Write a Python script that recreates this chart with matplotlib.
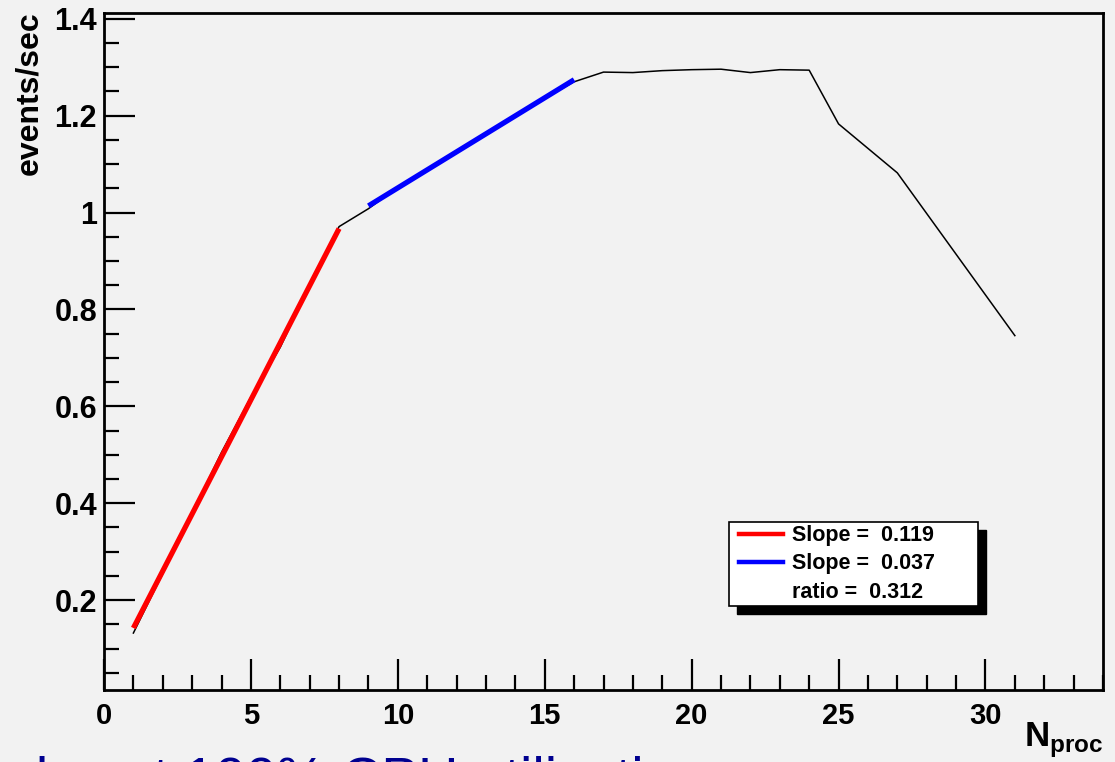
import matplotlib.pyplot as plt
from matplotlib.patches import Rectangle
from matplotlib.lines import Line2D
from matplotlib.ticker import MultipleLocator
import numpy as np

# events/sec vs number of processes
n_proc = [1, 2, 3, 4, 5, 6, 7, 8, 9, 10, 11, 12, 13, 14, 15, 16,
          17, 18, 19, 20, 21, 22, 23, 24, 25, 27, 31]
rate = [0.132, 0.255, 0.380, 0.505, 0.619, 0.722, 0.850, 0.971,
        1.008, 1.052, 1.090, 1.126, 1.163, 1.200, 1.236, 1.270,
        1.290, 1.289, 1.293, 1.295, 1.296, 1.289, 1.295, 1.294,
        1.183, 1.082, 0.746]

# linear fits: (x range, intercept, slope)
fit1_range = [1, 8]
fit1_par = [0.0245, 0.1178]
fit2_range = [9, 16]
fit2_par = [0.679, 0.0372]
legend_text = ["Slope =  0.119", "Slope =  0.037", "ratio =  0.312"]

plt.rcParams['font.family'] = ['Liberation Sans', 'DejaVu Sans']
plt.rcParams['mathtext.fontset'] = 'custom'
plt.rcParams['mathtext.bf'] = 'Liberation Sans:bold'
plt.rcParams['mathtext.rm'] = 'Liberation Sans:bold'

bg = '#f2f2f2'
fig = plt.figure(figsize=(11.15, 7.62), dpi=100, facecolor=bg)
ax = fig.add_axes([104/1115, 1 - 690/762, 999/1115, 677/762], facecolor=bg)

ax.plot(n_proc, rate, color='black', lw=1.1, zorder=2)

x1 = np.array(fit1_range, dtype=float)
ax.plot(x1, fit1_par[0] + fit1_par[1] * x1, color='#ff0000', lw=3.8,
        solid_capstyle='butt', zorder=3)
x2 = np.array(fit2_range, dtype=float)
ax.plot(x2, fit2_par[0] + fit2_par[1] * x2, color='#0000ff', lw=3.8,
        solid_capstyle='butt', zorder=3)

ax.set_xlim(0, 34)
ax.set_ylim(0.0144, 1.412)
ax.xaxis.set_major_locator(MultipleLocator(5))
ax.xaxis.set_minor_locator(MultipleLocator(1))
ax.yaxis.set_major_locator(MultipleLocator(0.2))
ax.yaxis.set_minor_locator(MultipleLocator(0.05))
ax.yaxis.set_major_formatter(plt.FuncFormatter(lambda v, p: '%g' % round(v, 2)))
ax.tick_params(which='both', direction='in', top=False, right=False, width=1.6)
ax.tick_params(which='major', length=22)
ax.tick_params(which='minor', length=11)
ax.tick_params(axis='x', pad=9, labelsize=21)
ax.tick_params(axis='y', pad=5, labelsize=22)
for lab in ax.get_xticklabels() + ax.get_yticklabels():
    lab.set_fontweight('bold')
for s in ax.spines.values():
    s.set_linewidth(2.0)

fig.text(29/1115, 1 - 11/762, 'events/sec', rotation=90, ha='center', va='top',
         fontsize=23, fontweight='bold')
fig.text(1103/1115, 1 - 760/762, r'$\mathbf{N}_{\mathbf{proc}}$', ha='right',
         va='bottom', fontsize=25)

# legend box with ROOT style shadow
lx0, lx1, ly0, ly1 = 0.626, 0.875, 0.124, 0.248
ax.add_patch(Rectangle((lx0 + 0.008, ly0 - 0.012), lx1 - lx0, ly1 - ly0,
                       transform=ax.transAxes, facecolor='black',
                       edgecolor='black', zorder=5))
ax.add_patch(Rectangle((lx0, ly0), lx1 - lx0, ly1 - ly0, transform=ax.transAxes,
                       facecolor='white', edgecolor='black', lw=1.2, zorder=6))
rows = [0.228, 0.1865, 0.144]
for i, (txt, col) in enumerate(zip(legend_text, ['#ff0000', '#0000ff', None])):
    if col:
        ax.add_line(Line2D([0.636, 0.680], [rows[i] + 0.002, rows[i] + 0.002],
                           transform=ax.transAxes, color=col, lw=3.2, zorder=7))
    ax.text(0.689, rows[i], txt, transform=ax.transAxes, ha='left', va='center',
            fontsize=15.5, fontweight='bold', zorder=7)

fig.text(5/1115, 1 - 796/762, 'almost 100% CPU utilization', ha='left',
         va='baseline', fontsize=40, color='#000090')

fig.savefig('out.png', dpi=100, facecolor=bg)
